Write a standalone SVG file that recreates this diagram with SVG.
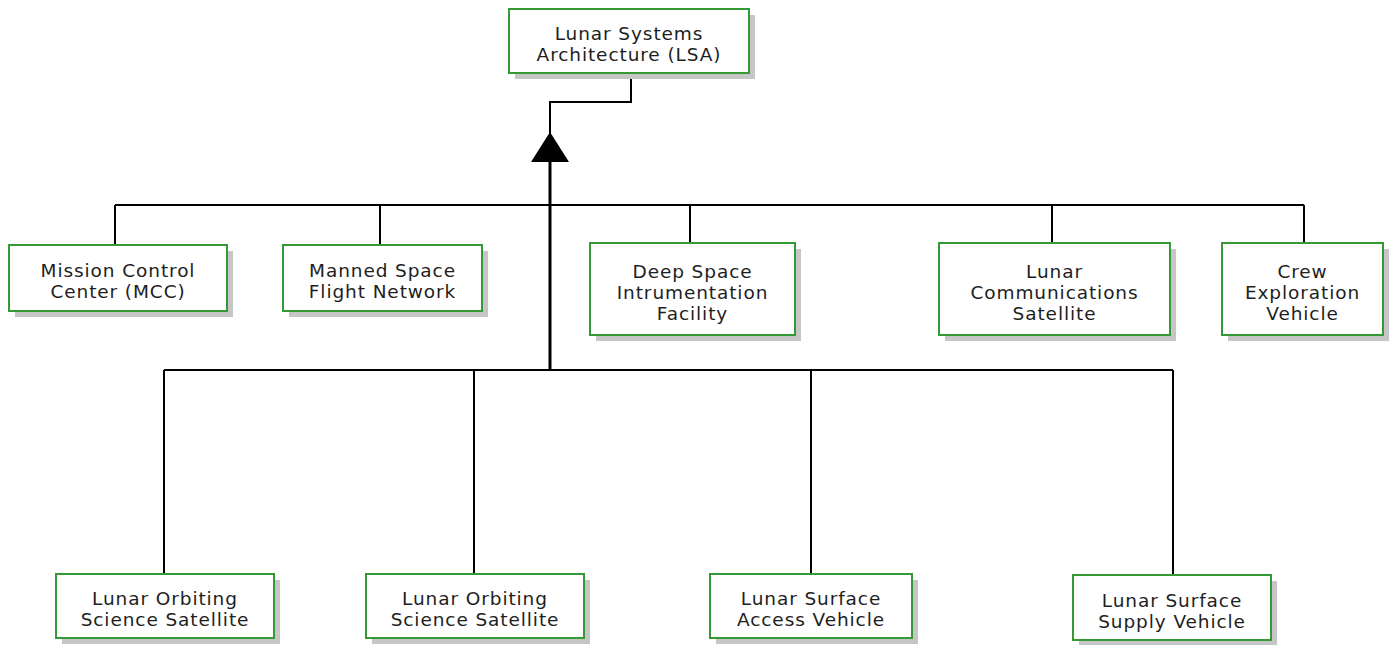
<svg xmlns="http://www.w3.org/2000/svg" width="1393" height="645" viewBox="0 0 1393 645">
<style>
.shadow{fill:#c6c6c6}
.box{fill:#ffffff;stroke:#349a34;stroke-width:2}
.lbl{font-family:"DejaVu Sans","Noto Sans",sans-serif;font-size:18.5px;fill:#1e1e1e;text-anchor:middle;letter-spacing:0.9px}
.wire{fill:none;stroke:#000;stroke-width:2}
.thick{fill:none;stroke:#000;stroke-width:3}
</style>
<defs>
<marker id="tri" viewBox="0 0 30 38" refX="0" refY="19" markerWidth="30" markerHeight="38" markerUnits="userSpaceOnUse" orient="auto">
<path d="M0,0 L30,19 L0,38 Z" fill="#000"/>
</marker>
</defs>
<rect width="1393" height="645" fill="#fff"/>
<g id="connectors">
<path class="wire" d="M631,73 V102 H550 V140"/>
<path class="thick" d="M550,371 V162" marker-end="url(#tri)"/>
<path class="wire" d="M115,205 H1304"/>
<path class="wire" d="M115,205 V245 M380,205 V245 M690,205 V243 M1052,205 V243 M1304,205 V243"/>
<path class="wire" d="M164,370 H1173"/>
<path class="wire" d="M164,370 V574 M474,370 V574 M811,370 V574 M1173,370 V575"/>
</g>
<g id="lsa">
<rect class="shadow" x="515" y="15" width="240" height="64"/>
<rect class="box" x="509" y="9" width="240" height="64"/>
<text class="lbl" x="629" y="40">Lunar Systems</text>
<text class="lbl" x="629" y="61">Architecture (LSA)</text>
</g>
<g id="mcc">
<rect class="shadow" x="15" y="251" width="218" height="66"/>
<rect class="box" x="9" y="245" width="218" height="66"/>
<text class="lbl" x="118" y="277">Mission Control</text>
<text class="lbl" x="118" y="298">Center (MCC)</text>
</g>
<g id="msfn">
<rect class="shadow" x="289" y="251" width="199" height="66"/>
<rect class="box" x="283" y="245" width="199" height="66"/>
<text class="lbl" x="382.5" y="277">Manned Space</text>
<text class="lbl" x="382.5" y="298">Flight Network</text>
</g>
<g id="dsif">
<rect class="shadow" x="596" y="249" width="205" height="92"/>
<rect class="box" x="590" y="243" width="205" height="92"/>
<text class="lbl" x="692.5" y="278">Deep Space</text>
<text class="lbl" x="692.5" y="299">Intrumentation</text>
<text class="lbl" x="692.5" y="320">Facility</text>
</g>
<g id="lcs">
<rect class="shadow" x="945" y="249" width="231" height="92"/>
<rect class="box" x="939" y="243" width="231" height="92"/>
<text class="lbl" x="1054.5" y="278">Lunar</text>
<text class="lbl" x="1054.5" y="299">Communications</text>
<text class="lbl" x="1054.5" y="320">Satellite</text>
</g>
<g id="cev">
<rect class="shadow" x="1228" y="249" width="161" height="92"/>
<rect class="box" x="1222" y="243" width="161" height="92"/>
<text class="lbl" x="1302.5" y="278">Crew</text>
<text class="lbl" x="1302.5" y="299">Exploration</text>
<text class="lbl" x="1302.5" y="320">Vehicle</text>
</g>
<g id="loss1">
<rect class="shadow" x="62" y="580" width="218" height="64"/>
<rect class="box" x="56" y="574" width="218" height="64"/>
<text class="lbl" x="165" y="605">Lunar Orbiting</text>
<text class="lbl" x="165" y="626">Science Satellite</text>
</g>
<g id="loss2">
<rect class="shadow" x="372" y="580" width="218" height="64"/>
<rect class="box" x="366" y="574" width="218" height="64"/>
<text class="lbl" x="475" y="605">Lunar Orbiting</text>
<text class="lbl" x="475" y="626">Science Satellite</text>
</g>
<g id="lsav">
<rect class="shadow" x="716" y="580" width="202" height="64"/>
<rect class="box" x="710" y="574" width="202" height="64"/>
<text class="lbl" x="811" y="605">Lunar Surface</text>
<text class="lbl" x="811" y="626">Access Vehicle</text>
</g>
<g id="lssv">
<rect class="shadow" x="1079" y="581" width="198" height="65"/>
<rect class="box" x="1073" y="575" width="198" height="65"/>
<text class="lbl" x="1172" y="607">Lunar Surface</text>
<text class="lbl" x="1172" y="628">Supply Vehicle</text>
</g>
</svg>
